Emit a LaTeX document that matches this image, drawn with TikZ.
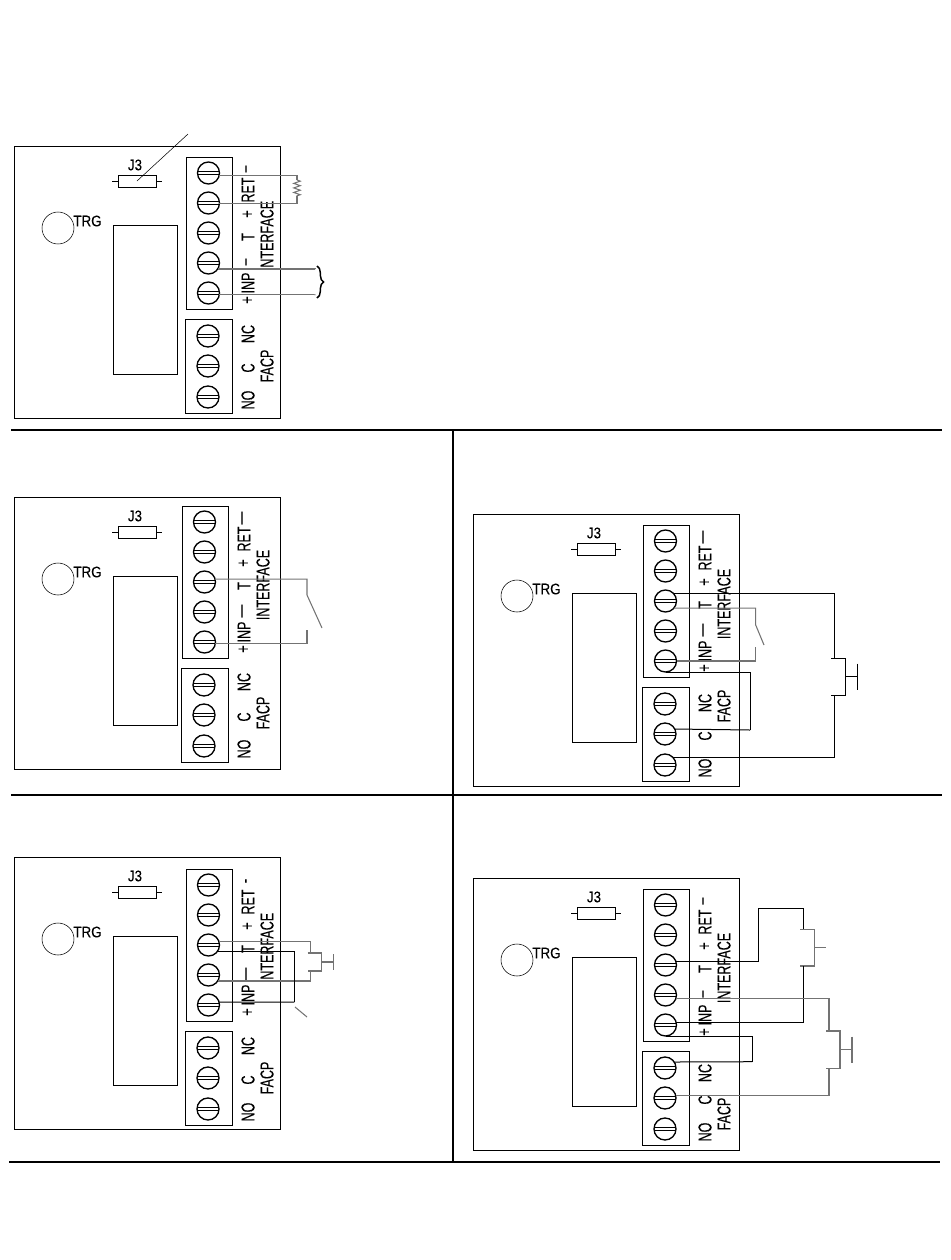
\documentclass[tikz,border=0pt]{standalone}
\usepackage{fontspec}
\setmainfont{Liberation Sans}
\newfontfamily\labelfont[FakeBold=0.2]{Liberation Sans}
\usetikzlibrary{decorations.pathmorphing,decorations.pathreplacing}

\tikzset{
	x=.75pt,y=-.75pt,
	line width=.9pt,
	outline/.style={draw,anchor=north west,inner sep=0,outer sep=0},
	screwhead/.style={draw,circle,line width=1pt,minimum size=16.5pt,inner sep=0,outer sep=0},
	jumper/.style={draw,minimum width=28.5pt,minimum height=9pt,inner sep=0,outer sep=0},
	pinlabel/.style={rotate=90,xscale=.67,inner sep=0,font=\labelfont\fontsize{14}{15}\selectfont},
	flatlabel/.style={xscale=.87,inner sep=0,font=\labelfont\fontsize{11.5}{12}\selectfont},
	wire/.style={black,line width=.75pt},
	gwire/.style={black!55,line width=.8pt},
	rule/.style={line width=1.3pt}
}

% #1 prefix, #2 #3 board corner, #4 #5 terminal block offset, #6 #7 dashes, #8 NC, #9 FACP
\newcommand{\board}[9]{
	\node[outline,minimum width=199.5pt,minimum height=204pt] (#1b) at (#2,#3) {};
	\node[outline,minimum width=48pt,minimum height=111.75pt] (#1r) at (#2+99,#3+79) {};
	\node[draw,circle,minimum size=24pt,inner sep=0] (#1c) at (#2+44,#3+82) {};
	\node[flatlabel] (#1t) at (#2+73.5,#3+75) {TRG};
	\node[jumper] (#1j) at (#2+123,#3+35) {};
	\draw (#1j.west) -- ++(-6,0);
	\draw (#1j.east) -- ++(6,0);
	\node[flatlabel] (#1jl) at (#2+121,#3+19) {J3};
	\node[outline,minimum width=34.5pt,minimum height=114pt] (#1i) at (#2+#4,#3+#5) {};
	\node[outline,minimum width=35.25pt,minimum height=70.5pt] (#1f) at (#2+#4-1,#3+#5+162) {};
	\foreach \n/\dy in {1/16,2/46,3/76,4/106,5/136} {
		\node[screwhead] (#1\n) at (#2+#4+22.5,#3+#5+\dy) {};
		\draw ([yshift=1.3pt]#1\n.west) -- ([yshift=1.3pt]#1\n.east);
		\draw ([yshift=-1.3pt]#1\n.west) -- ([yshift=-1.3pt]#1\n.east);
	}
	\foreach \n/\dy in {6/179,7/209,8/240} {
		\node[screwhead] (#1\n) at (#2+#4+22,#3+#5+\dy) {};
		\draw ([yshift=1.3pt]#1\n.west) -- ([yshift=1.3pt]#1\n.east);
		\draw ([yshift=-1.3pt]#1\n.west) -- ([yshift=-1.3pt]#1\n.east);
	}
	\foreach \n/\dy/\txt in {a/12/#6,b/33/RET,c/57/+,d/80/T,e/105/#7,f/126/INP,g/143/+,h/#8/NC,k/211/C,l/243/NO} {
		\node[pinlabel] (#1l\n) at (#2+#4+62,#3+#5+\dy) {\txt};
	}
	\node[pinlabel] (#1li) at (#2+#4+81,#3+#5+79) {INTERFACE};
	\node[pinlabel] (#1lf) at (#2+#4+81,#3+#5+#9) {FACP};
}

% #1 look, #2 prefix, #3 wire x, #4 top, #5 bottom, #6 half length of the bar
\newcommand{\pbutton}[6][wire]{
	\coordinate (#2t) at (#3,#4);
	\coordinate (#2b) at (#3,#5);
	\draw[#1] (#3-3,#4) -- (#3+11,#4) -- (#3+11,#5) -- (#3-3,#5);
	\draw[#1] (#3+11,#4/2+#5/2) -- (#3+23,#4/2+#5/2);
	\draw[#1] (#3+23,#4/2+#5/2-#6) -- (#3+23,#4/2+#5/2+#6);
}

\begin{document}
\begin{tikzpicture}
	\useasboundingbox (0,0) rectangle (950,1260);

	% panel rules
	\draw[rule] (11,430) -- (942,430);
	\draw[rule] (11,795) -- (942,795);
	\draw[rule] (9,1162) -- (940,1162);
	\draw[rule] (453,430) -- (453,1162);

	% end of line resistor and jumper pointer
	\board{a}{14}{146}{172}{11}{–}{–}{177}{209}
	\coordinate (ptr) at (188,134);
	\draw (ptr) -- (aj.center);
	\coordinate (ra) at (297,180);
	\coordinate (rb) at (297,196);
	\draw[gwire] (a1.-14) -| (ra);
	\draw[gwire,decorate,decoration={zigzag,amplitude=2.4pt,segment length=3.4pt}] (ra) -- (rb);
	\draw[gwire] (a2.-5) -| (rb);
	\coordinate (bra) at (315,269);
	\coordinate (brb) at (315,294.5);
	\draw[gwire] (a4.-33) -| (bra);
	\draw[gwire] (a5.-8) -| (brb);
	\coordinate (brt) at (317,266);
	\coordinate (brd) at (317,298);
	\draw[line width=1.1pt,decorate,decoration={brace,amplitude=5pt}] (brt) -- (brd);

	% single switch
	\board{b}{14}{497}{168}{9}{—}{—}{176}{207}
	\coordinate (sa) at (307,595);
	\coordinate (sb) at (322,628);
	\coordinate (sc) at (307,630);
	\draw[gwire] (b3.15) -| (sa) -- (sb);
	\draw[gwire] (b5.-10) -| (sc);

	% switch and push button with facp
	\board{c}{473}{514}{170}{11}{—}{—}{178}{181}
	\pbutton{cp}{834}{658}{695}{13}
	\draw[wire] (c3.40) -| (cpt);
	\draw[wire] (c8.40) -| (cpb);
	\coordinate (ca) at (755.7,625);
	\coordinate (cb) at (764,645);
	\coordinate (cc) at (755.7,647);
	\draw[gwire] (c3.-40) -| (ca) -- (cb);
	\draw[gwire] (c5.0) -| (cc);
	\coordinate (cj) at (750,730);
	\draw[wire] (c5.south) -| (cj);
	\draw[wire] (c7.27) -- (cj);

	% push button on two loops
	\board{d}{14}{857}{172}{12}{-}{—}{177}{209}
	\pbutton[gwire]{dp}{310.7}{953}{971}{8}
	\draw[gwire] (d3.20) -| (dpt);
	\draw[gwire] (d4.-33) -| (dpb);
	\coordinate (da) at (294.3,1002);
	\draw[wire] (d3.-33) -| (da);
	\draw[wire] (d5.15) -- (da);
	\coordinate (ta) at (295,1007);
	\coordinate (tb) at (307,1017);
	\draw[gwire] (ta) -- (tb);

	% two push buttons
	\board{e}{473}{878}{170}{11}{–}{–}{184}{225}
	\pbutton[gwire]{ep}{803.3}{929.3}{966}{0}
	\pbutton[gwire]{eq}{829}{1031}{1068.3}{13}
	\coordinate (ea) at (758.3,908.3);
	\draw[wire] (e3.20) -| (ea) -| (ept);
	\draw[wire] (e5.15) -| (epb);
	\draw[gwire] (e4.-18) -| (eqt);
	\draw[gwire] (e7.15) -| (eqb);
	\coordinate (ej) at (752.3,1061.7);
	\draw[wire] (e5.south) -| (ej);
	\draw[wire] (e6.33) -- (ej);
\end{tikzpicture}
\end{document}
